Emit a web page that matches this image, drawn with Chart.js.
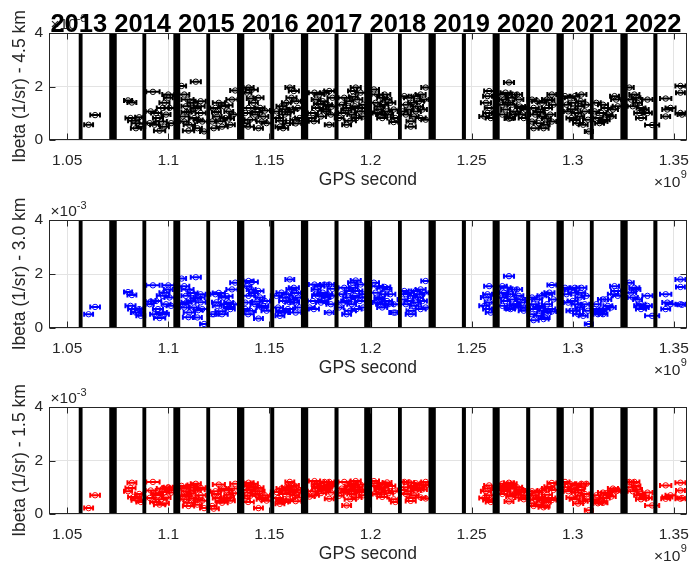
<!DOCTYPE html>
<html>
<head>
<meta charset="utf-8">
<script src="https://cdn.jsdelivr.net/npm/chart.js@4.4.1/dist/chart.umd.min.js"></script>
<style>
  body { margin: 0; background: #fff; }
  #wrap { position: relative; width: 700px; height: 566px; }
  canvas { position: absolute; left: 0; }
</style>
</head>
<body>
<div id="wrap">
  <canvas id="p1" width="700" height="190" style="top:0px"></canvas>
  <canvas id="p2" width="700" height="188" style="top:190px"></canvas>
  <canvas id="p3" width="700" height="188" style="top:378px"></canvas>
</div>
<script>
// GPS time of each retrieval (x 1e9 s) and its half-width (x 1e9 s)
const gpsTime = [
  1.0606,1.0638,
  1.0801,1.0820,1.0813,1.0829,1.0848,1.0864,1.0840,1.0856,
  1.0924,1.0913,1.0957,1.0932,1.0973,1.0981,1.1000,1.1000,1.0949,1.0989,1.0965,1.1014,1.0908,1.0940,1.0981,1.1006,
  1.1066,1.1079,1.1136,1.1095,1.1120,1.1087,1.1152,1.1112,1.1160,1.1071,1.1128,1.1168,1.1104,1.1144,1.1177,1.1079,1.1136,
  1.1217,1.1233,1.1250,1.1274,1.1299,1.1331,1.1315,1.1242,1.1282,1.1307,1.1266,1.1323,1.1225,
  1.1397,1.1413,1.1389,1.1446,1.1421,1.1397,1.1454,1.1381,1.1429,1.1470,1.1405,1.1446,1.1486,1.1381,1.1462,
  1.1601,1.1621,1.1535,1.1560,1.1584,1.1609,1.1633,1.1543,1.1576,1.1617,1.1641,1.1552,1.1592,1.1649,1.1568,1.1625,
  1.1699,1.1723,1.1747,1.1772,1.1796,1.1731,1.1764,1.1788,1.1812,1.1739,1.1780,1.1715,1.1796,1.1755,1.1804,
  1.1927,1.1911,1.1951,1.1870,1.1894,1.1935,1.1858,1.1890,1.1923,1.1964,1.1866,1.1907,1.1947,1.1882,1.1931,1.1845,1.1964,
  1.2017,1.2033,1.2058,1.2082,1.2025,1.2066,1.2098,1.2041,1.2082,1.2050,1.2115,1.2123,1.2058,1.2033,
  1.2167,1.2191,1.2224,1.2248,1.2273,1.2175,1.2208,1.2240,1.2265,1.2159,1.2191,1.2224,1.2257,1.2175,1.2216,1.2248,1.2115,1.2199,1.2273,
  1.2587,1.2579,1.2571,1.2587,1.2563,1.2579,1.2595,
  1.2685,1.2652,1.2668,1.2701,1.2725,1.2660,1.2693,1.2734,1.2652,1.2701,1.2750,1.2668,1.2717,1.2766,1.2652,1.2693,1.2742,1.2685,1.2758,
  1.2799,1.2824,1.2848,1.2873,1.2897,1.2807,1.2840,1.2873,1.2905,1.2815,1.2848,1.2889,1.2799,1.2832,1.2864,1.2807,1.2897,1.2856,
  1.2962,1.2986,1.3011,1.3043,1.2970,1.3003,1.3035,1.3068,1.2978,1.3019,1.3060,1.2994,1.3035,1.3027,1.3052,1.3076,1.3080,
  1.3117,1.3150,1.3109,1.3142,1.3174,1.3199,1.3207,1.3215,1.3125,1.3158,1.3191,1.3223,1.3133,1.3166,1.3150,
  1.3280,1.3305,1.3313,1.3289,1.3321,1.3297,1.3338,1.3370,1.3354,1.3329,1.3370,1.3338,1.3393,
  1.3460,1.3468,1.3460,1.3533,1.3533,1.3533,1.3541,1.3484,
  // denser parts of the clouds
  1.1090,1.1148,1.1100,1.1160, 1.1258,1.1290,1.1238,1.1300, 1.1440,1.1410,1.1478,1.1395,
  1.1558,1.1600,1.1630,1.1575, 1.1745,1.1770,1.1720,1.1808, 1.1880,1.1915,1.1950,1.1900,
  1.2045,1.2090,1.2070, 1.2235,1.2200, 1.2680,1.2710,1.2740, 1.2830,1.2870,1.2885, 1.3000,1.3040,1.3010
];
const gpsErr = [
  .0022,.0024,
  .0020,.0022,.0025,.0028,.0030,.0022,.0025,.0020,
  .0033,.0025,.0028,.0022,.0030,.0025,.0030,.0022,.0025,.0022,.0028,.0022,.0020,.0025,.0022,.0025,
  .0022,.0025,.0025,.0030,.0025,.0022,.0028,.0022,.0025,.0030,.0022,.0025,.0028,.0022,.0020,.0022,.0025,
  .0022,.0025,.0030,.0025,.0022,.0025,.0028,.0022,.0025,.0022,.0028,.0022,.0025,
  .0025,.0030,.0022,.0025,.0022,.0028,.0022,.0025,.0022,.0025,.0028,.0022,.0025,.0022,.0025,
  .0022,.0025,.0028,.0025,.0022,.0025,.0022,.0025,.0028,.0022,.0025,.0022,.0025,.0022,.0025,.0022,
  .0025,.0028,.0025,.0022,.0025,.0022,.0025,.0022,.0025,.0028,.0022,.0025,.0022,.0025,.0022,
  .0025,.0022,.0025,.0028,.0022,.0025,.0022,.0025,.0022,.0020,.0025,.0022,.0025,.0022,.0025,.0022,.0020,
  .0025,.0028,.0025,.0022,.0025,.0022,.0025,.0022,.0025,.0022,.0025,.0022,.0025,.0022,
  .0022,.0025,.0022,.0025,.0022,.0025,.0022,.0025,.0022,.0025,.0022,.0025,.0022,.0025,.0022,.0025,.0022,.0025,.0022,
  .0025,.0022,.0025,.0022,.0025,.0022,.0025,
  .0025,.0022,.0025,.0022,.0025,.0022,.0025,.0022,.0025,.0022,.0025,.0022,.0025,.0022,.0025,.0022,.0025,.0022,.0025,
  .0022,.0025,.0022,.0025,.0022,.0025,.0022,.0025,.0022,.0025,.0022,.0025,.0022,.0025,.0022,.0025,.0022,.0025,
  .0022,.0025,.0022,.0025,.0022,.0025,.0022,.0025,.0022,.0025,.0022,.0025,.0022,.0025,.0022,.0025,.0020,
  .0022,.0025,.0022,.0025,.0022,.0025,.0022,.0025,.0022,.0025,.0022,.0025,.0022,.0025,.0022,
  .0022,.0025,.0022,.0025,.0022,.0025,.0022,.0025,.0022,.0025,.0022,.0025,.0035,
  .0028,.0025,.0022,.0025,.0022,.0025,.0022,.0025,
  .0025,.0022,.0028,.0025, .0025,.0028,.0022,.0025, .0025,.0022,.0025,.0028,
  .0025,.0022,.0028,.0025, .0025,.0022,.0025,.0028, .0025,.0022,.0025,.0028,
  .0025,.0022,.0028, .0025,.0022, .0025,.0022,.0025, .0025,.0022,.0025, .0025,.0022,.0025
];

// Ibeta (x 1e-3 1/sr) at 4.5 km, 3.0 km and 1.5 km
const ibeta45 = [
  .57,.93,
  1.48,1.40,.82,.72,.63,.50,.44,.85,
  1.80,1.07,.35,.57,1.20,1.39,1.70,1.58,.82,.95,.69,.63,.63,1.01,.50,1.20,
  2.02,1.70,2.18,1.51,1.39,1.26,1.26,1.07,1.01,.88,.82,.69,.57,.44,.32,.69,1.20,
  .69,1.20,1.39,1.26,1.07,1.85,1.51,.88,.82,.57,.50,.95,.44,
  1.96,1.88,1.77,1.58,1.39,1.20,1.20,1.01,.95,.88,.76,.44,.63,.63,.69,
  1.96,1.83,1.07,1.26,1.39,1.58,1.45,.82,.95,1.14,1.20,.50,.63,.82,.44,.76,
  .82,1.77,1.70,1.77,1.83,1.51,1.45,1.32,1.58,1.20,1.07,1.01,.57,.88,.95,
  1.96,1.83,1.77,1.58,1.45,1.51,1.32,1.20,1.26,1.32,1.01,.95,1.07,.57,.82,.82,.88,
  1.89,1.70,1.58,1.51,1.39,1.32,1.39,1.14,1.07,.95,1.14,.82,.82,1.01,
  1.64,1.58,1.64,1.70,1.96,1.32,1.39,1.45,1.51,1.07,1.14,1.07,1.14,.95,.88,.82,.67,.50,.76,
  1.83,1.64,1.39,1.20,.88,1.01,.82,
  2.15,1.70,1.77,1.70,1.70,1.51,1.58,1.51,1.32,1.32,1.20,1.14,1.07,1.14,.95,.82,.95,.80,.82,
  1.51,1.45,1.39,1.51,1.70,1.20,1.14,1.20,1.32,.95,.88,.95,.69,.63,.57,.44,.69,.44,
  1.64,1.58,1.64,1.70,1.32,1.39,1.26,1.32,1.07,1.01,1.07,.82,.88,.63,.57,.76,.32,
  1.39,1.32,1.07,1.01,.95,1.14,1.64,1.51,.82,.76,.88,1.26,.63,1.20,.69,
  1.96,1.70,1.58,1.51,1.39,1.26,1.20,1.51,1.14,1.01,1.01,.82,.56,
  1.55,1.14,.88,2.02,1.77,1.01,.95,1.20,
  1.05,.75,.35,1.45, .70,1.30,1.05,.80, 1.05,1.55,1.10,.50,
  .72,1.05,.62,1.15, 1.35,1.15,.70,1.25, 1.10,1.62,1.20,.72,
  1.25,.95,1.70, 1.25,.70, 1.40,.95,1.25, 1.05,.80,1.50, 1.15,1.45,.75
];
const ibeta30 = [
  .51,.78,
  1.33,1.22,.82,.70,.57,.45,.57,.70,
  1.58,.98,.37,.51,1.19,1.31,1.58,1.43,.70,.88,.57,.82,.88,1.00,.51,1.13,
  1.83,1.55,1.88,1.43,1.30,1.19,1.13,1.00,.95,.88,.76,.70,.57,.39,.15,.76,1.10,
  .51,1.25,1.30,1.13,.94,1.68,1.43,.82,.88,.70,.51,.88,.51,
  1.74,1.70,1.55,1.37,1.30,1.19,1.13,.94,.88,.82,.64,.35,.64,.70,.76,
  1.80,1.49,1.19,1.31,1.25,1.43,1.30,.76,1.00,1.06,1.13,.45,.70,.76,.57,.94,
  .76,1.61,1.55,1.61,1.61,1.43,1.31,1.25,1.45,1.19,1.13,1.00,.57,.94,.88,
  1.76,1.68,1.61,1.49,1.37,1.37,1.25,1.13,1.19,1.25,.94,.88,1.00,.51,.70,.76,.76,
  1.68,1.55,1.49,1.43,1.31,1.25,1.25,1.06,1.00,.88,.88,.57,.76,.94,
  1.37,1.31,1.37,1.43,1.74,1.25,1.19,1.25,1.31,1.06,1.00,.94,1.00,.88,.82,.70,.57,.51,.76,
  1.55,1.25,1.13,.94,.82,.70,.57,
  1.92,1.55,1.49,1.43,1.43,1.31,1.25,1.19,1.13,1.06,.94,1.00,.88,.76,.82,.70,.76,.73,.64,
  1.13,1.06,1.19,1.25,1.59,.88,.82,.88,1.06,.70,.64,.70,.51,.45,.39,.29,.61,.33,
  1.49,1.43,1.49,1.49,1.25,1.31,1.13,1.19,.94,.88,.88,.64,.76,.51,.45,.64,.15,
  .88,1.06,.70,.64,.82,1.25,1.55,1.37,.51,.70,.76,1.19,.57,1.06,.51,
  1.68,1.49,1.43,1.31,1.06,1.13,.88,1.19,.76,.82,.82,.70,.45,
  1.25,.94,.70,1.80,1.52,.88,.86,.88,
  .95,.66,.40,1.25, .62,1.18,.95,.78, .98,1.43,1.00,.51,
  .64,.95,.57,1.13, 1.25,1.00,.70,1.19, 1.00,1.49,1.13,.64,
  1.13,.88,1.52, 1.13,.64, 1.25,.82,1.06, .76,.57,1.31, 1.00,1.31,.64
];
const ibeta15 = [
  .22,.70,
  .85,1.17,.97,.64,.51,.45,.60,.75,
  1.20,.88,.35,.45,.95,.82,.98,1.00,.70,.62,.55,.80,.60,.78,.40,.90,
  1.05,.95,1.13,1.00,1.08,.85,.92,.78,.70,.65,.58,.50,.42,.35,.22,.55,.88,
  .30,.85,1.10,.95,.72,1.13,.95,.60,.58,.50,.42,.78,.20,
  1.17,1.13,1.05,.98,1.00,.90,.85,.80,.75,.62,.68,.22,.50,.58,.55,
  1.20,1.07,.82,.95,1.00,1.05,.92,.60,.75,.88,.80,.38,.55,.62,.45,.70,
  .65,1.23,1.15,1.20,1.20,1.10,1.05,1.00,1.12,.95,.90,.85,.57,.78,.80,
  1.23,1.15,1.10,1.20,1.05,1.00,.95,.90,.98,.92,.80,.75,.82,.32,.62,.68,.70,
  1.23,1.15,1.10,1.18,1.05,1.00,1.05,.92,.88,.80,.85,.45,.64,.75,
  1.20,1.18,1.15,1.10,1.20,1.00,1.05,.98,1.08,.90,.85,.88,.92,.75,.70,.62,.55,.49,.58,
  1.07,.95,.85,.70,.60,.52,.45,
  1.17,1.13,1.05,1.13,1.00,.98,1.08,.92,.90,.95,.80,.85,.78,.70,.75,.65,.62,.47,.55,
  .85,.80,.88,.95,1.16,.70,.62,.72,.90,.55,.50,.60,.40,.35,.30,.30,.52,.25,
  1.20,1.13,1.08,1.13,1.00,.95,.90,1.13,.85,.80,.75,.62,.68,.39,.48,.55,.14,
  .70,.80,.55,.45,.72,.95,.90,.85,.40,.60,.65,.88,.48,.78,.42,
  1.20,1.20,1.05,1.00,.92,.85,.75,.80,.62,.70,.60,.55,.32,
  1.07,.64,.57,1.17,.88,.57,.60,.70,
  .72,.55,.30,.98, .50,.88,.75,.62, .85,1.02,.70,.45,
  .52,.80,.48,.90, 1.02,.92,.70,1.05, .85,1.12,.90,.55,
  .98,.78,1.12, .95,.60, 1.00,.72,.88, .58,.45,1.02, .92,1.00,.55
];

// black data-gap bands (x 1e9 s)
const gapStart = [1.0557,1.0708,1.0872,1.1025,1.1188,1.1340,1.1504,1.1656,1.1822,1.1969,1.2136,1.2287,1.2452,1.2604,1.2770,1.2920,1.3085,1.3236,1.3399];
const gapEnd   = [1.0576,1.0745,1.0891,1.1059,1.1207,1.1376,1.1524,1.1692,1.1842,1.2008,1.2155,1.2323,1.2472,1.2639,1.2790,1.2956,1.3104,1.3272,1.3419];

const xTicks = [1.05, 1.1, 1.15, 1.2, 1.25, 1.3, 1.35];
const xTickLabels = ['1.05', '1.1', '1.15', '1.2', '1.25', '1.3', '1.35'];
const yTicks = [0, 2, 4];
const yTickLabels = ['0', '2', '4'];
const yearLabels = ['2013','2014','2015','2016','2017','2018','2019','2020','2021','2022'];

const xMin = 1.041, xMax = 1.3565;
const FONT = '"Liberation Sans", Arial, Helvetica, sans-serif';
const AXC = '#262626';

const panelPlugin = {
  id: 'panel',
  beforeDatasetsDraw(chart, args, opts) {
    const {ctx, chartArea: a, scales: {x, y}} = chart;
    ctx.save();
    ctx.beginPath();
    ctx.rect(a.left, a.top, a.right - a.left, a.bottom - a.top);
    ctx.clip();
    ctx.strokeStyle = opts.color;
    ctx.lineWidth = 2;
    ctx.beginPath();
    chart.data.datasets[0].data.forEach(p => {
      const x0 = x.getPixelForValue(p.x - p.e);
      const x1 = x.getPixelForValue(p.x + p.e);
      const py = y.getPixelForValue(p.y);
      ctx.moveTo(x0, py); ctx.lineTo(x1, py);
      ctx.moveTo(x0, py - 2.5); ctx.lineTo(x0, py + 2.5);
      ctx.moveTo(x1, py - 2.5); ctx.lineTo(x1, py + 2.5);
    });
    ctx.stroke();
    ctx.restore();
  },
  afterDatasetsDraw(chart, args, opts) {
    const {ctx, chartArea: a, scales: {x, y}} = chart;
    ctx.save();
    // gap bands
    ctx.fillStyle = '#000';
    gapStart.forEach((s, i) => {
      const x0 = x.getPixelForValue(s), x1 = x.getPixelForValue(gapEnd[i]);
      ctx.fillRect(x0, a.top, x1 - x0, a.bottom - a.top);
    });
    // box and inner ticks
    ctx.strokeStyle = AXC;
    ctx.lineWidth = 1;
    const L = Math.round(a.left) + 0.5, R = Math.round(a.right) - 0.5;
    const T = Math.round(a.top) + 0.5, B = Math.round(a.bottom) - 0.5;
    ctx.strokeRect(L, T, R - L, B - T);
    ctx.beginPath();
    xTicks.forEach(v => {
      const px = Math.round(x.getPixelForValue(v)) + 0.5;
      ctx.moveTo(px, B); ctx.lineTo(px, B - 6);
      ctx.moveTo(px, T); ctx.lineTo(px, T + 6);
    });
    yTicks.forEach(v => {
      const py = Math.round(y.getPixelForValue(v)) + 0.5;
      ctx.moveTo(L, py); ctx.lineTo(L + 6, py);
      ctx.moveTo(R, py); ctx.lineTo(R - 6, py);
    });
    ctx.stroke();

    ctx.fillStyle = AXC;
    // axis labels
    ctx.font = '17.5px ' + FONT;
    ctx.textAlign = 'center';
    ctx.textBaseline = 'alphabetic';
    ctx.fillText('GPS second', (a.left + a.right) / 2, a.bottom + 45);
    ctx.save();
    ctx.translate(20, (a.top + a.bottom) / 2);
    ctx.rotate(-Math.PI / 2);
    ctx.textBaseline = 'middle';
    ctx.fillText(opts.ylabel, 0, 0);
    ctx.restore();

    // x10^9 multiplier
    ctx.textAlign = 'right';
    ctx.font = '11px ' + FONT;
    const w9 = ctx.measureText('9').width;
    ctx.fillText('9', a.right, a.bottom + 38);
    ctx.font = '15.5px ' + FONT;
    ctx.fillText('\u00d710', a.right - w9 - 0.5, a.bottom + 47);

    // x10^-3 multiplier
    ctx.textAlign = 'left';
    ctx.font = '15.5px ' + FONT;
    const w10 = ctx.measureText('\u00d710').width;
    ctx.fillText('\u00d710', a.left + 1.5, a.top - 4.5);
    ctx.font = '11px ' + FONT;
    ctx.fillText('-3', a.left + 1.5 + w10, a.top - 11.5);

    if (opts.title) {
      ctx.fillStyle = '#000';
      ctx.font = 'bold 25.5px ' + FONT;
      ctx.textAlign = 'center';
      ctx.fillText(yearLabels.join(' '), (a.left + a.right) / 2 - 2, a.top - 1);
    }
    ctx.restore();
  }
};

function makePanel(id, values, color, ylabel, padTop, plotH, title) {
  const canvas = document.getElementById(id);
  const pts = gpsTime.map((t, i) => ({x: t, y: values[i], e: gpsErr[i]}));
  return new Chart(canvas, {
    type: 'scatter',
    data: {
      datasets: [{
        data: pts,
        pointRadius: 2.7,
        pointHoverRadius: 2.7,
        pointBorderWidth: 1,
        pointBorderColor: color,
        pointBackgroundColor: 'rgba(0,0,0,0)'
      }]
    },
    options: {
      responsive: false,
      animation: false,
      events: [],
      layout: {padding: {top: padTop, right: 7, left: 0, bottom: 0}},
      plugins: {
        legend: {display: false},
        tooltip: {enabled: false},
        panel: {color: color, ylabel: ylabel, title: title}
      },
      scales: {
        x: {
          type: 'linear',
          min: xMin,
          max: xMax,
          afterBuildTicks: axis => { axis.ticks = xTicks.map(v => ({value: v})); },
          afterFit: axis => { axis.height = canvas.height - padTop - plotH; },
          grid: {color: '#e3e3e3', drawTicks: false},
          border: {display: false},
          ticks: {
            padding: 11,
            maxRotation: 0,
            autoSkip: false,
            color: AXC,
            font: {size: 15.5, family: FONT},
            callback: v => xTickLabels[xTicks.indexOf(v)]
          }
        },
        y: {
          min: 0,
          max: 4,
          afterBuildTicks: axis => { axis.ticks = yTicks.map(v => ({value: v})); },
          afterFit: axis => { axis.width = 49; },
          grid: {color: '#e3e3e3', drawTicks: false},
          border: {display: false},
          ticks: {
            padding: 6,
            color: AXC,
            font: {size: 15.5, family: FONT},
            callback: v => yTickLabels[yTicks.indexOf(v)]
          }
        }
      }
    },
    plugins: [panelPlugin]
  });
}

makePanel('p1', ibeta45, '#000000', 'Ibeta (1/sr) - 4.5 km', 33, 107, true);
makePanel('p2', ibeta30, '#0000ff', 'Ibeta (1/sr) - 3.0 km', 30, 108, false);
makePanel('p3', ibeta15, '#ff0000', 'Ibeta (1/sr) - 1.5 km', 29, 107, false);
</script>
</body>
</html>
